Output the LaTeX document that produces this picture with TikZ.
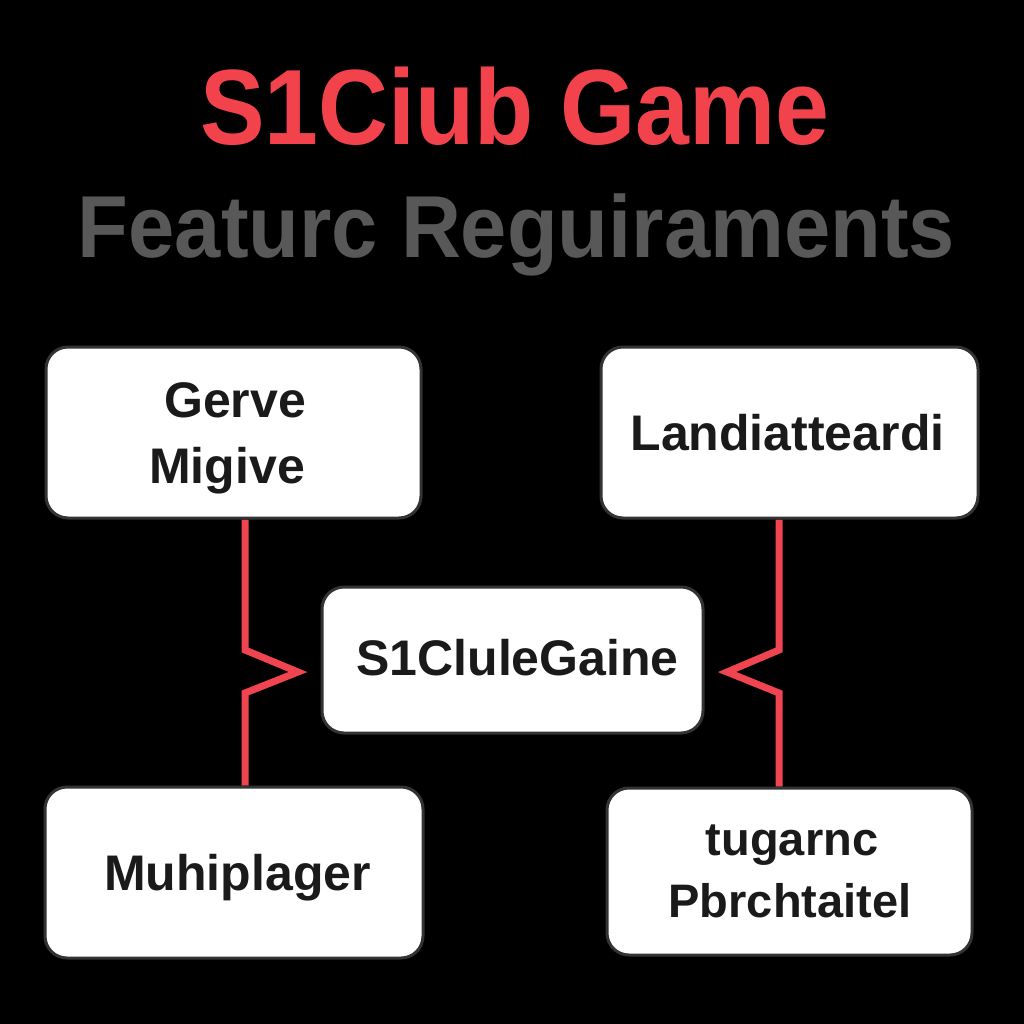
\documentclass[tikz,border=0pt]{standalone}
\usepackage{fontspec}
\setmainfont{Liberation Sans}
\definecolor{titlered}{HTML}{F2434D}
\definecolor{titlegray}{HTML}{585858}
\definecolor{boxtext}{HTML}{1A1A1A}
\definecolor{boxedge}{HTML}{333333}
\definecolor{linkred}{HTML}{F04550}
\pgfdeclarelayer{linklayer}
\pgfsetlayers{linklayer,main}
\tikzset{
  box/.style={draw=boxedge, line width=3pt, fill=white, rounded corners=22pt, inner sep=0pt},
  lbl/.style={anchor=base, inner sep=0pt, text=boxtext, font=\fontsize{50}{60}\selectfont\bfseries},
  smalllbl/.style={lbl, font=\fontsize{47}{56}\selectfont\bfseries},
  link/.style={draw=linkred, line width=7pt, line join=miter},
}
\begin{document}
\begin{tikzpicture}[x=1pt, y=-1pt]
\begin{pgfonlayer}{linklayer}
\fill[black] (0,0) rectangle (1024,1024);
\end{pgfonlayer}
\useasboundingbox (0,0) rectangle (1024,1024);

% titles
\node[anchor=base, inner sep=0pt, text=titlered] (t1) at (515,145)
  {\scalebox{0.905}[1]{\fontsize{107}{120}\selectfont\bfseries S1Ciub Game}};
\node[anchor=base, inner sep=0pt, text=titlegray] (t2) at (516.5,258)
  {\scalebox{0.944}[1]{\fontsize{88}{100}\selectfont\bfseries Featurc Reguiraments}};

% boxes
\node[box, minimum width=375pt, minimum height=171pt] (tl) at (233.5,432.5) {};
\node[box, minimum width=377pt, minimum height=171pt] (tr) at (789.5,432.5) {};
\node[box, minimum width=381pt, minimum height=146pt] (c)  at (512.5,660) {};
\node[box, minimum width=378pt, minimum height=171pt] (bl) at (234,872.5) {};
\node[box, minimum width=365pt, minimum height=167pt] (br) at (789.5,871.5) {};

% connectors behind the boxes
\begin{pgfonlayer}{linklayer}
\draw[link] ([xshift=11.5pt]tl.south) -- (245,650) -- (298,672) -- (245,693) -- ([xshift=11pt]bl.north);
\draw[link] ([xshift=-10.5pt]tr.south) -- (779,650) -- (727,672) -- (779,693) -- ([xshift=-10.5pt]br.north);
\end{pgfonlayer}

% labels
\node[lbl] (l1a) at (235,417) {Gerve};
\node[lbl] (l1b) at (227,483) {Migive};
\node[lbl] (l2) at (787.5,450) {Landiatteardi};
\node[lbl] (l3) at (517.5,675) {S1CluleGaine};
\node[lbl] (l4) at (237.5,890) {Muhiplager};
\node[smalllbl] (l5a) at (792,855) {tugarnc};
\node[smalllbl] (l5b) at (790,917) {Pbrchtaitel};
\end{tikzpicture}
\end{document}
